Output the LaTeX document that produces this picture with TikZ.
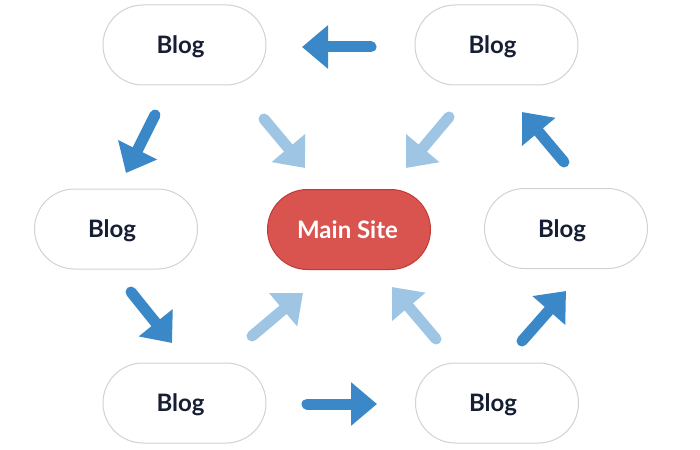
\documentclass[tikz,border=0pt]{standalone}
\usepackage{fontspec}
\setmainfont{Lato}
\usetikzlibrary{arrows.meta}
\definecolor{darkblue}{HTML}{3B88C9}
\definecolor{lightblue}{HTML}{9EC6E4}
\definecolor{mainred}{HTML}{D9534F}
\definecolor{mainredborder}{HTML}{C23A36}
\definecolor{blogborder}{HTML}{D2D2D2}
\definecolor{textnavy}{HTML}{161E33}
\begin{document}
\begin{tikzpicture}[x=1pt,y=-1pt,
  blogbox/.style={draw=blogborder, line width=1pt, fill=white, rounded corners=40pt,
    minimum width=163pt, minimum height=80pt, inner sep=0pt, text depth=0pt,
    font=\fontsize{24}{28}\selectfont\bfseries, text=textnavy},
  mainbox/.style={blogbox, draw=mainredborder, fill=mainred, text=white},
  darkarrow/.style={draw=darkblue, line width=11pt, line cap=round,
    -{Triangle[length=26pt,width=42pt]}},
  lightarrow/.style={darkarrow, draw=lightblue}]
\useasboundingbox (0,0) rectangle (700,449);
\fill[white] (0,0) rectangle (700,449);

\node[blogbox] (tl) at (184.5,45) {\kern-8pt Blog};
\node[blogbox] (tr) at (496.5,45) {\kern-8pt Blog};
\node[blogbox] (ml) at (116,229) {\kern-8pt Blog};
\node[mainbox] (main) at (349,229.5) {\kern-3pt Main Site};
\node[blogbox] (mr) at (566,228.5) {\kern-8pt Blog};
\node[blogbox] (bl) at (184.5,403) {\kern-8pt Blog};
\node[blogbox] (br) at (497,403) {\kern-8pt Blog};

% arrow end points
\coordinate (a1s) at (371,47);   \coordinate (a1e) at (302,47);
\coordinate (a2s) at (155,115);  \coordinate (a2e) at (126,173);
\coordinate (a3s) at (131,292);  \coordinate (a3e) at (172,343);
\coordinate (a4s) at (307,404);  \coordinate (a4e) at (377,404);
\coordinate (a5s) at (522,341);  \coordinate (a5e) at (566,291);
\coordinate (a6s) at (564,162);  \coordinate (a6e) at (522,112);
\coordinate (b1s) at (264,119);  \coordinate (b1e) at (305,168);
\coordinate (b2s) at (449,117);  \coordinate (b2e) at (406,168);
\coordinate (b3s) at (252,336);  \coordinate (b3e) at (303,293);
\coordinate (b4s) at (436,339);  \coordinate (b4e) at (392,287);

\draw[lightarrow] (b1s) -- (b1e);
\draw[lightarrow] (b2s) -- (b2e);
\draw[lightarrow] (b3s) -- (b3e);
\draw[lightarrow] (b4s) -- (b4e);

\draw[darkarrow] (a1s) -- (a1e);
\draw[darkarrow] (a2s) -- (a2e);
\draw[darkarrow] (a3s) -- (a3e);
\draw[darkarrow] (a4s) -- (a4e);
\draw[darkarrow] (a5s) -- (a5e);
\draw[darkarrow] (a6s) -- (a6e);
\end{tikzpicture}
\end{document}
